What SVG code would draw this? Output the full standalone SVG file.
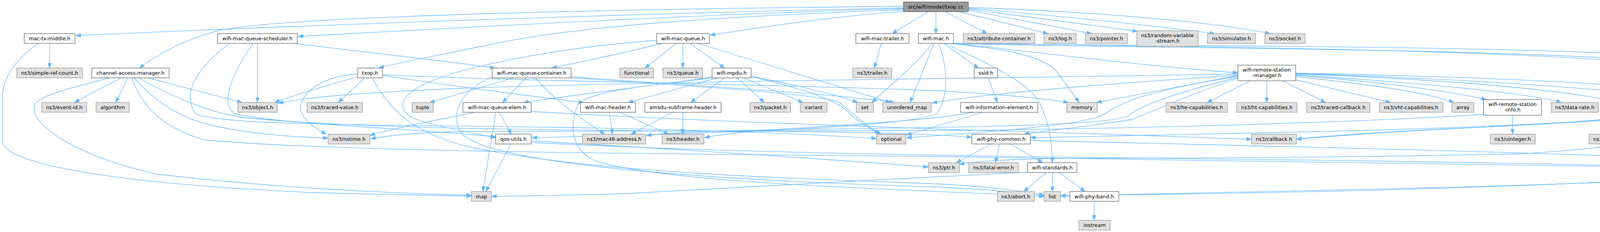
<svg xmlns="http://www.w3.org/2000/svg" width="4663" height="593" viewBox="0 0 4663 593">
<style>
.e{fill:none;stroke:#63b8ff;stroke-width:1.3;marker-end:url(#ah)}
.ext rect{fill:#e0e0e0;stroke:#999999;stroke-width:1.3}
.int rect{fill:#ffffff;stroke:#666666;stroke-width:1.3}
.root rect{fill:#999999;stroke:#666666;stroke-width:1.3}
text{font-family:"DejaVu Sans","Liberation Sans",sans-serif;font-size:13px;text-anchor:middle;fill:#000000}
</style>
<defs>
<marker id="ah" markerUnits="userSpaceOnUse" markerWidth="14" markerHeight="11" refX="13" refY="5" orient="auto">
<path d="M0,0.3 L13,5 L0,9.7 z" fill="#63b8ff" stroke="#63b8ff" stroke-width="1"/>
</marker>
</defs>
<rect x="0" y="0" width="4663" height="593" fill="#ffffff"/>
<g id="edges">
<path class="e" d="M2313,20 C1500,38 700,68 194,91"/>
<path class="e" d="M2313,16 C1300,26 700,48 560,78 C480,98 400,140 357,174"/>
<path class="e" d="M2313,22 C1800,36 1200,70 763,93"/>
<path class="e" d="M2313,25 C1900,40 1500,62 1259,113 C1100,146 1010,162 970,174"/>
<path class="e" d="M2313,29 C2100,45 1950,70 1818,90"/>
<path class="e" d="M2376,30 L2284,86"/>
<path class="e" d="M2396,30 L2396,86"/>
<path class="e" d="M2420,30 L2527,86"/>
<path class="e" d="M2456,30 L2683,86"/>
<path class="e" d="M2479,26 L2795,86"/>
<path class="e" d="M2479,23 L2912,80"/>
<path class="e" d="M2479,21 C2700,40 2950,65 3110,86"/>
<path class="e" d="M2479,19 C2800,30 3100,55 3252,86"/>
<path class="e" d="M127,111 L127,174"/>
<path class="e" d="M99,111 C40,150 6,200 6,250 L6,360 C6,420 300,470 800,492 C1000,498 1150,500 1207,501"/>
<path class="e" d="M310,199 L190,262"/>
<path class="e" d="M327,199 L296,262"/>
<path class="e" d="M378,199 L620,262"/>
<path class="e" d="M280,199 C180,225 95,245 88,270 C75,320 200,400 400,445 C700,480 1000,494 1207,499"/>
<path class="e" d="M343,199 C390,250 440,290 520,315 C640,345 760,350 840,353"/>
<path class="e" d="M337,199 C360,260 400,320 520,357 C800,385 1500,392 2400,400 C3300,410 4000,422 4287,428"/>
<path class="e" d="M355,199 C430,240 520,285 620,300 C900,330 1500,334 2000,336 C2300,338 2420,345 2488,351"/>
<path class="e" d="M659,111 L659,262"/>
<path class="e" d="M754,111 C780,116 1100,150 1268,174"/>
<path class="e" d="M648,111 C600,180 560,260 600,290 C700,318 1100,330 1269,350"/>
<path class="e" d="M588,111 C520,160 460,230 500,290 C560,320 900,318 1400,325 C1900,333 2150,348 2244,354"/>
<path class="e" d="M916,196 C860,212 760,240 703,262"/>
<path class="e" d="M916,189 C850,192 790,220 772,260 C760,290 790,320 836,343"/>
<path class="e" d="M934,199 L866,262"/>
<path class="e" d="M979,193 C1150,218 1350,245 1494,262"/>
<path class="e" d="M979,191 C1400,210 2000,215 2400,232 C2550,240 2680,252 2735,262"/>
<path class="e" d="M953,199 C990,270 1050,340 1200,375 C1500,440 2000,455 2400,470 C2550,478 2640,492 2673,499"/>
<path class="e" d="M1681,103 C1450,120 1150,170 1060,230 C1010,265 1030,295 1080,310 C1150,330 1220,342 1269,352"/>
<path class="e" d="M1694,111 C1600,135 1480,160 1412,174"/>
<path class="e" d="M1732,111 L1651,174"/>
<path class="e" d="M1748,111 L1748,174"/>
<path class="e" d="M1766,111 L1855,174"/>
<path class="e" d="M1787,111 L2280,262"/>
<path class="e" d="M1315,199 L1100,262"/>
<path class="e" d="M1347,199 L1286,262"/>
<path class="e" d="M1371,199 C1420,260 1500,310 1548,343"/>
<path class="e" d="M1259,197 C1180,230 1150,290 1180,340 C1250,420 1800,460 2400,478 C2550,485 2640,495 2673,501"/>
<path class="e" d="M1462,196 C1700,215 2100,235 2290,262"/>
<path class="e" d="M1462,199 C1800,222 2100,240 2150,262 C2180,290 2220,320 2250,343"/>
<path class="e" d="M1217,287 C1100,310 1000,330 947,346"/>
<path class="e" d="M1278,287 L1309,343"/>
<path class="e" d="M1269,287 C1260,350 1245,430 1236,489.5"/>
<path class="e" d="M1360,285 C1700,305 2300,328 2800,342 C3000,348 3150,353 3204,356"/>
<path class="e" d="M1824,197 C1700,215 1450,245 1340,262"/>
<path class="e" d="M1837,199 L1608,262"/>
<path class="e" d="M1855,199 L1768,262"/>
<path class="e" d="M1887,199 L1957,262"/>
<path class="e" d="M1904,199 L2056,262"/>
<path class="e" d="M1923,195 C2000,210 2120,235 2196,262"/>
<path class="e" d="M1923,196 C2050,225 2140,255 2170,285 C2200,315 2230,330 2256,343"/>
<path class="e" d="M1824,199 C1700,215 1500,230 1478,270 C1458,320 1462,380 1520,410 C1700,470 2300,482 2673,502"/>
<path class="e" d="M1722,287 L1615,343"/>
<path class="e" d="M1748,287 L1748,343"/>
<path class="e" d="M1560,287 L1568,343"/>
<path class="e" d="M1586,287 L1712,343"/>
<path class="e" d="M1308,368 L1244,489.5"/>
<path class="e" d="M1360,360 C1700,380 2100,405 2377,427"/>
<path class="e" d="M1360,364 C1800,388 2400,398 3000,405 C3600,412 4100,420 4287,428"/>
<path class="e" d="M2403,111 C2425,170 2430,240 2400,290 C2300,330 1800,340 1362,352"/>
<path class="e" d="M2415,111 L2505,174"/>
<path class="e" d="M2420,111 C2520,160 2620,200 2660,260 C2690,320 2694,380 2694,416"/>
<path class="e" d="M2431,111 C2560,125 2680,140 2710,190 C2740,230 2755,250 2762,262"/>
<path class="e" d="M2386,111 C2360,150 2300,200 2232,262"/>
<path class="e" d="M2391,111 L2330,262"/>
<path class="e" d="M2438,110 C2700,140 3000,175 3169,186"/>
<path class="e" d="M2436,111 C2900,125 3800,120 4300,160 C4500,178 4657,200 4657,260 L4657,370 C4657,420 4550,440 4300,455 C3700,490 3000,496 2715,501"/>
<path class="e" d="M2434,111 C2900,118 3600,115 4100,135 C4300,150 4330,210 4320,250 C4300,300 4000,315 3800,325 C3500,338 3400,348 3319,355"/>
<path class="e" d="M2432,111 C3000,118 3900,125 4350,172 C4520,190 4600,230 4595,280 C4590,340 4480,380 4392,416"/>
<path class="e" d="M3169,189 C2600,200 1800,205 1200,225 C900,237 780,250 712,264"/>
<path class="e" d="M3169,192 C2900,210 2550,235 2386,263"/>
<path class="e" d="M3169,193 L2807,262"/>
<path class="e" d="M3169,195 C2950,230 2870,260 2830,290 C2790,320 2500,340 2321,352"/>
<path class="e" d="M3169,198 C3000,240 2920,270 2890,295 C2850,320 2500,325 2100,330 C1850,333 1700,338 1655,347"/>
<path class="e" d="M3169,200 C3050,240 2960,280 2900,305 C2780,325 2660,335 2622,343"/>
<path class="e" d="M3201,206.5 L3090,262"/>
<path class="e" d="M3243,206.5 L3243,262"/>
<path class="e" d="M3284,206.5 L3394,262"/>
<path class="e" d="M3317,204 L3560,262"/>
<path class="e" d="M3317,196 C3500,215 3650,235 3722,262"/>
<path class="e" d="M3317,193 C3550,210 3720,235 3805,254.5"/>
<path class="e" d="M3317,191 C3600,210 3900,235 3997,262"/>
<path class="e" d="M3317,189 C3700,203 4000,228 4147,262"/>
<path class="e" d="M3317,188 C3800,203 4200,232 4360,262"/>
<path class="e" d="M3317,187 C3900,198 4350,222 4500,262"/>
<path class="e" d="M3872,294.5 L3872,343"/>
<path class="e" d="M3800,292 C3500,312 3000,326 2500,333 C2000,336 1500,334 1200,336 C1080,338 1000,345 949,355"/>
<path class="e" d="M2490,287 C2400,305 2200,318 2000,330 C1900,337 1840,344 1804,352"/>
<path class="e" d="M2517,287 L2321,345"/>
<path class="e" d="M2530,199 L2553,262"/>
<path class="e" d="M2538,368 L2448,416"/>
<path class="e" d="M2559,368 L2548,416"/>
<path class="e" d="M2586,368 L2670,416"/>
<path class="e" d="M2638,359 C3000,368 3800,385 4100,398 C4250,405 4340,412 4381,418"/>
<path class="e" d="M2678,441 L2621,489.5"/>
<path class="e" d="M2694,441 L2694,489.5"/>
<path class="e" d="M2711,441 L2778,489.5"/>
<path class="e" d="M2631,440 C2300,455 1900,480 1600,495 C1450,500 1320,501 1258,502"/>
<path class="e" d="M2801,514.5 L2801,563"/>
<path class="e" d="M4367,287 L4192,343"/>
<path class="e" d="M4390,287 C4360,320 4330,370 4323,416"/>
<path class="e" d="M4367,287 C4200,305 3900,320 3700,330 C3500,340 3400,350 3319,356"/>
<path class="e" d="M4367,287 C4150,310 3700,330 3300,338 C3000,344 2750,350 2638,352"/>
<path class="e" d="M4508,287 L4440,343"/>
<path class="e" d="M4494,287 C4400,330 4250,370 3900,393 C3400,405 2800,404 2700,405 C2600,407 2500,411 2456,420"/>
<path class="e" d="M4524,287 C4520,350 4510,420 4440,448 C4200,470 3500,485 2715,500"/>
<path class="e" d="M4404,368 L4343,416"/>
<path class="e" d="M4422,368 L4419,416"/>
<path class="e" d="M2256,111 L2238,174"/>
</g>
<g id="node-txop-cc" class="root"><rect x="2313" y="5" width="166" height="25"/><text x="2396" y="22">src/wifi/model/txop.cc</text></g>
<g id="node-mac-tx-middle" class="int"><rect x="62" y="86" width="130" height="25"/><text x="127" y="103">mac-tx-middle.h</text></g>
<g id="node-wifi-mac-queue-scheduler" class="int"><rect x="557" y="86" width="204" height="25"/><text x="659" y="103">wifi-mac-queue-scheduler.h</text></g>
<g id="node-wifi-mac-queue" class="int"><rect x="1681" y="86" width="135" height="25"/><text x="1748.5" y="103">wifi-mac-queue.h</text></g>
<g id="node-wifi-mac-trailer" class="int"><rect x="2191" y="86" width="136" height="25"/><text x="2259" y="103">wifi-mac-trailer.h</text></g>
<g id="node-wifi-mac" class="int"><rect x="2351" y="86" width="90" height="25"/><text x="2396" y="103">wifi-mac.h</text></g>
<g id="node-attribute-container" class="ext"><rect x="2466" y="86" width="183" height="25"/><text x="2557.5" y="103">ns3/attribute-container.h</text></g>
<g id="node-log" class="ext"><rect x="2673" y="86" width="82" height="25"/><text x="2714" y="103">ns3/log.h</text></g>
<g id="node-pointer" class="ext"><rect x="2779" y="86" width="107" height="25"/><text x="2832.5" y="103">ns3/pointer.h</text></g>
<g id="node-random-variable-stream" class="ext"><rect x="2910" y="78.5" width="157" height="40"/><text x="2988.5" y="95">ns3/random-variable</text><text x="2988.5" y="108.5">-stream.h</text></g>
<g id="node-simulator" class="ext"><rect x="3091" y="86" width="123" height="25"/><text x="3152.5" y="103">ns3/simulator.h</text></g>
<g id="node-socket" class="ext"><rect x="3238" y="86" width="103" height="25"/><text x="3289.5" y="103">ns3/socket.h</text></g>
<g id="node-simple-ref-count" class="ext"><rect x="43" y="174" width="168" height="25"/><text x="127" y="191">ns3/simple-ref-count.h</text></g>
<g id="node-channel-access-manager" class="int"><rect x="235" y="174" width="198" height="25"/><text x="334" y="191">channel-access-manager.h</text></g>
<g id="node-txop-h" class="int"><rect x="916" y="174" width="63" height="25"/><text x="947.5" y="191">txop.h</text></g>
<g id="node-wifi-mac-queue-container" class="int"><rect x="1260" y="174" width="202" height="25"/><text x="1361" y="191">wifi-mac-queue-container.h</text></g>
<g id="node-functional" class="ext"><rect x="1587" y="174" width="86" height="25"/><text x="1630" y="191">functional</text></g>
<g id="node-queue" class="ext"><rect x="1697" y="174" width="102" height="25"/><text x="1748" y="191">ns3/queue.h</text></g>
<g id="node-wifi-mpdu" class="int"><rect x="1823" y="174" width="100" height="25"/><text x="1873" y="191">wifi-mpdu.h</text></g>
<g id="node-trailer" class="ext"><rect x="2183" y="174" width="100" height="25"/><text x="2233" y="191">ns3/trailer.h</text></g>
<g id="node-ssid" class="int"><rect x="2494" y="174" width="60" height="25"/><text x="2524" y="191">ssid.h</text></g>
<g id="node-wifi-remote-station-manager" class="int"><rect x="3169" y="166.5" width="148" height="40"/><text x="3243" y="183">wifi-remote-station</text><text x="3243" y="196.5">-manager.h</text></g>
<g id="node-event-id" class="ext"><rect x="107" y="262" width="115" height="25"/><text x="164.5" y="279">ns3/event-id.h</text></g>
<g id="node-algorithm" class="ext"><rect x="246" y="262" width="85" height="25"/><text x="288.5" y="279">algorithm</text></g>
<g id="node-object" class="ext"><rect x="609" y="262" width="101" height="25"/><text x="659.5" y="279">ns3/object.h</text></g>
<g id="node-traced-value" class="ext"><rect x="786" y="262" width="142" height="25"/><text x="857" y="279">ns3/traced-value.h</text></g>
<g id="node-tuple" class="ext"><rect x="1055" y="262" width="54" height="25"/><text x="1082" y="279">tuple</text></g>
<g id="node-wifi-mac-queue-elem" class="int"><rect x="1185" y="262" width="175" height="25"/><text x="1272.5" y="279">wifi-mac-queue-elem.h</text></g>
<g id="node-wifi-mac-header" class="int"><rect x="1486" y="262" width="141" height="25"/><text x="1556.5" y="279">wifi-mac-header.h</text></g>
<g id="node-amsdu-subframe-header" class="int"><rect x="1651" y="262" width="195" height="25"/><text x="1748.5" y="279">amsdu-subframe-header.h</text></g>
<g id="node-packet" class="ext"><rect x="1920" y="262" width="104" height="25"/><text x="1972" y="279">ns3/packet.h</text></g>
<g id="node-variant" class="ext"><rect x="2049" y="262" width="68" height="25"/><text x="2083" y="279">variant</text></g>
<g id="node-set" class="ext"><rect x="2192" y="262" width="44" height="25"/><text x="2214" y="279">set</text></g>
<g id="node-unordered-map" class="ext"><rect x="2260" y="262" width="124" height="25"/><text x="2322" y="279">unordered_map</text></g>
<g id="node-wifi-information-element" class="int"><rect x="2459" y="262" width="198" height="25"/><text x="2558" y="279">wifi-information-element.h</text></g>
<g id="node-memory" class="ext"><rect x="2731" y="262" width="78" height="25"/><text x="2770" y="279">memory</text></g>
<g id="node-he-capabilities" class="ext"><rect x="2985" y="262" width="157" height="25"/><text x="3063.5" y="279">ns3/he-capabilities.h</text></g>
<g id="node-ht-capabilities" class="ext"><rect x="3166" y="262" width="154" height="25"/><text x="3243" y="279">ns3/ht-capabilities.h</text></g>
<g id="node-traced-callback" class="ext"><rect x="3345" y="262" width="162" height="25"/><text x="3426" y="279">ns3/traced-callback.h</text></g>
<g id="node-vht-capabilities" class="ext"><rect x="3531" y="262" width="163" height="25"/><text x="3612.5" y="279">ns3/vht-capabilities.h</text></g>
<g id="node-array" class="ext"><rect x="3717" y="262" width="56" height="25"/><text x="3745" y="279">array</text></g>
<g id="node-wifi-remote-station-info" class="int"><rect x="3798" y="254.5" width="148" height="40"/><text x="3872" y="271">wifi-remote-station</text><text x="3872" y="284.5">-info.h</text></g>
<g id="node-data-rate" class="ext"><rect x="3971" y="262" width="121" height="25"/><text x="4031.5" y="279">ns3/data-rate.h</text></g>
<g id="node-eht-capabilities" class="ext"><rect x="4117" y="262" width="162" height="25"/><text x="4198" y="279">ns3/eht-capabilities.h</text></g>
<g id="node-wifi-mode" class="int"><rect x="4354" y="262" width="100" height="25"/><text x="4404" y="279">wifi-mode.h</text></g>
<g id="node-wifi-utils" class="int"><rect x="4479" y="262" width="91" height="25"/><text x="4524.5" y="279">wifi-utils.h</text></g>
<g id="node-nstime" class="ext"><rect x="840" y="343" width="107" height="25"/><text x="893.5" y="360">ns3/nstime.h</text></g>
<g id="node-qos-utils" class="int"><rect x="1269" y="343" width="91" height="25"/><text x="1314.5" y="360">qos-utils.h</text></g>
<g id="node-mac48-address" class="ext"><rect x="1491" y="343" width="162" height="25"/><text x="1572" y="360">ns3/mac48-address.h</text></g>
<g id="node-header" class="ext"><rect x="1695" y="343" width="107" height="25"/><text x="1748.5" y="360">ns3/header.h</text></g>
<g id="node-optional" class="ext"><rect x="2244" y="343" width="75" height="25"/><text x="2281.5" y="360">optional</text></g>
<g id="node-wifi-phy-common" class="int"><rect x="2488" y="343" width="150" height="25"/><text x="2563" y="360">wifi-phy-common.h</text></g>
<g id="node-callback" class="ext"><rect x="3204" y="343" width="115" height="25"/><text x="3261.5" y="360">ns3/callback.h</text></g>
<g id="node-uinteger" class="ext"><rect x="3815" y="343" width="115" height="25"/><text x="3872.5" y="360">ns3/uinteger.h</text></g>
<g id="node-attribute-helper" class="ext"><rect x="4068" y="343" width="163" height="25"/><text x="4149.5" y="360">ns3/attribute-helper.h</text></g>
<g id="node-block-ack-type" class="int"><rect x="4356" y="343" width="131" height="25"/><text x="4421.5" y="360">block-ack-type.h</text></g>
<g id="node-ptr" class="ext"><rect x="2377" y="416" width="79" height="25"/><text x="2416.5" y="433">ns3/ptr.h</text></g>
<g id="node-fatal-error" class="ext"><rect x="2480" y="416" width="127" height="25"/><text x="2543.5" y="433">ns3/fatal-error.h</text></g>
<g id="node-wifi-standards" class="int"><rect x="2631" y="416" width="126" height="25"/><text x="2694" y="433">wifi-standards.h</text></g>
<g id="node-vector" class="ext"><rect x="4287" y="416" width="64" height="25"/><text x="4319" y="433">vector</text></g>
<g id="node-ostream" class="ext"><rect x="4379" y="416" width="77" height="25"/><text x="4417.5" y="433">ostream</text></g>
<g id="node-map" class="ext"><rect x="1207" y="489.5" width="51" height="25"/><text x="1232.5" y="506.5">map</text></g>
<g id="node-abort" class="ext"><rect x="2553" y="489.5" width="95" height="25"/><text x="2600.5" y="506.5">ns3/abort.h</text></g>
<g id="node-list" class="ext"><rect x="2673" y="489.5" width="42" height="25"/><text x="2694" y="506.5">list</text></g>
<g id="node-wifi-phy-band" class="int"><rect x="2739" y="489.5" width="125" height="25"/><text x="2801.5" y="506.5">wifi-phy-band.h</text></g>
<g id="node-iostream" class="ext"><rect x="2762" y="563" width="80" height="25"/><text x="2802" y="580">iostream</text></g>
</svg>
